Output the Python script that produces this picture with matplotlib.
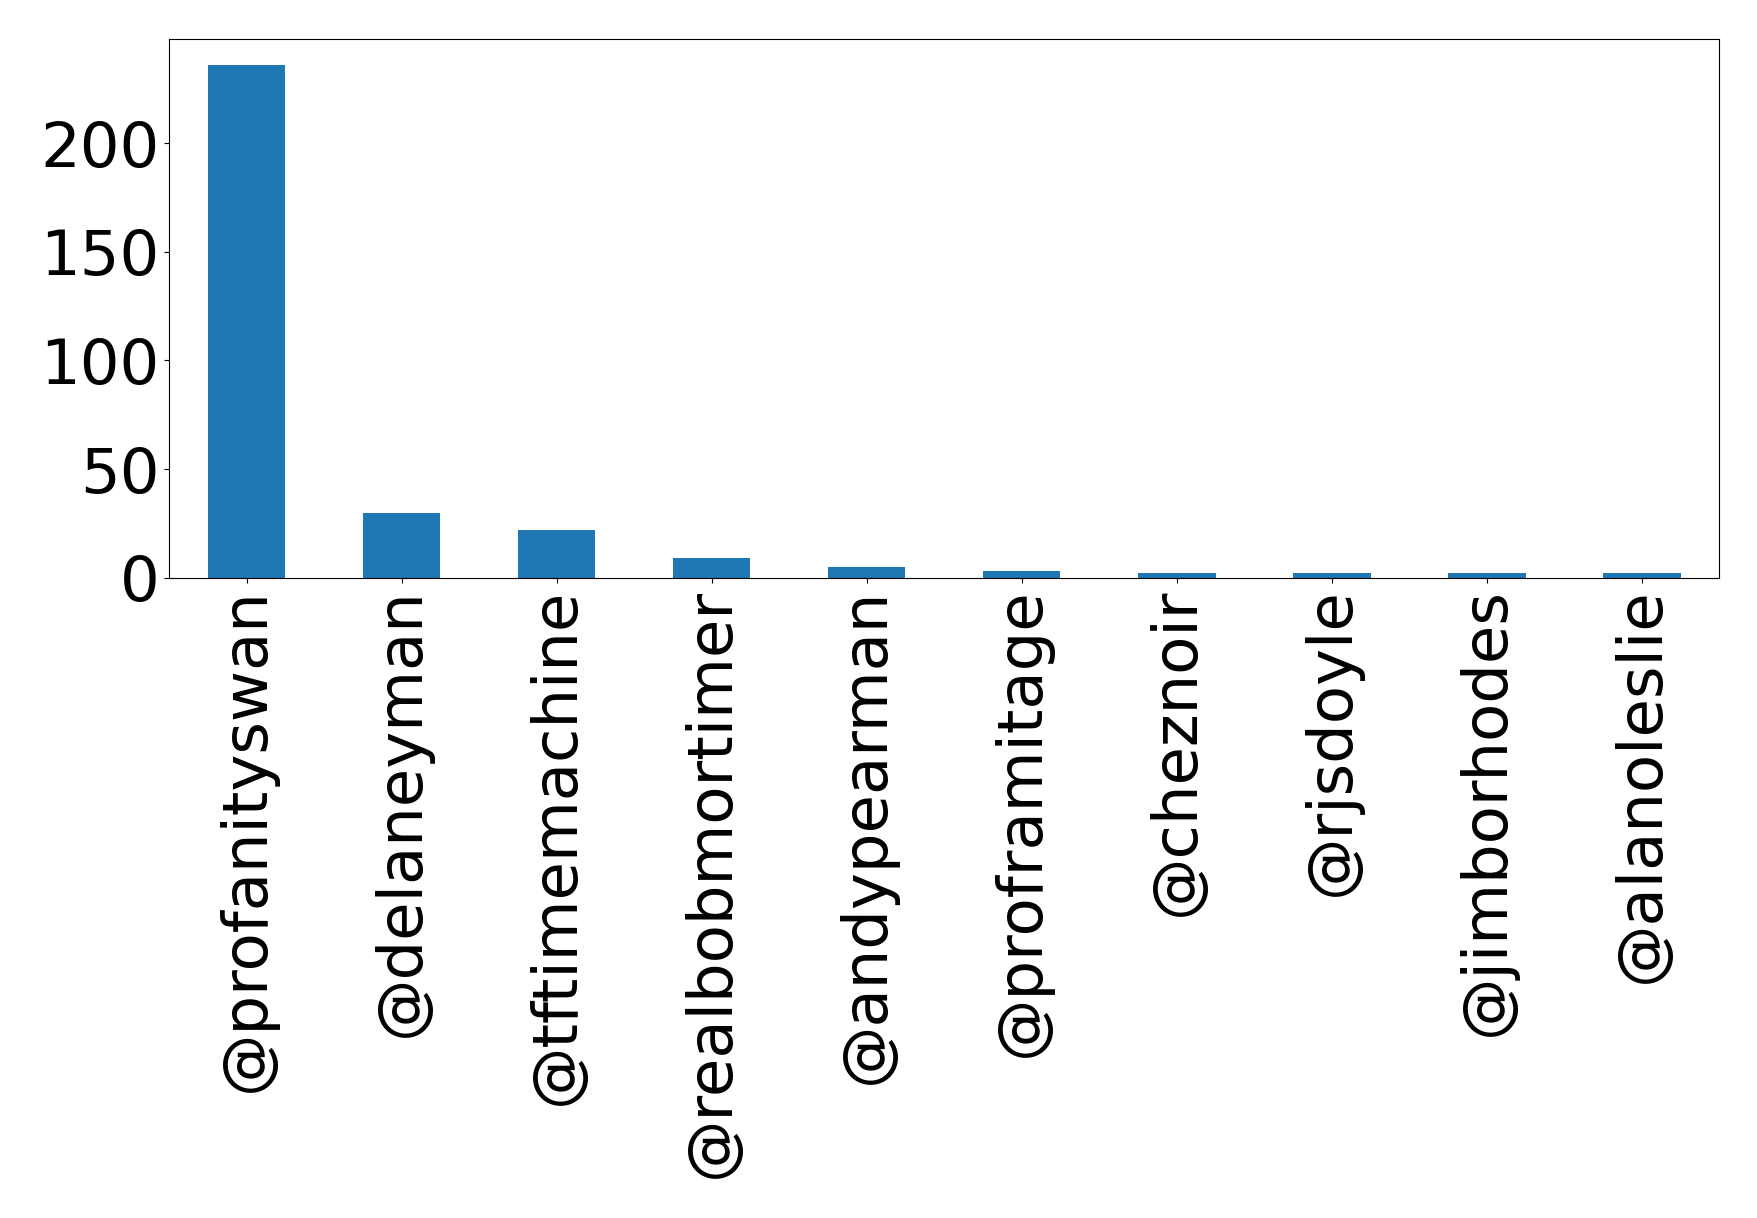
import numpy as np
import matplotlib
matplotlib.use("Agg")
import matplotlib.pyplot as plt

# mention counts per account
accounts = ['@profanityswan', '@delaneyman', '@tftimemachine', '@realbobmortimer',
            '@andypearman', '@proframitage', '@cheznoir', '@rjsdoyle',
            '@jimborhodes', '@alanoleslie']
counts = [236, 30, 22, 9, 5, 3, 2, 2, 2, 2]

fig = plt.figure(figsize=(17.58, 12.18), dpi=100)
ax = fig.add_subplot(1, 1, 1)
fig.subplots_adjust(left=0.0962, right=0.978, top=0.9677, bottom=0.5257)

x = np.arange(len(accounts))
ax.bar(x, counts, width=0.5, color='#1f77b4')
ax.set_xlim(-0.5, len(accounts) - 0.5)
ax.set_ylim(0, max(counts) * 1.05)
ax.set_xticks(x)
ax.set_xticklabels(accounts, rotation=90, fontsize=45)
ax.set_yticks([0, 50, 100, 150, 200])
ax.tick_params(axis='y', labelsize=45)

plt.savefig('out.png', dpi=100)
